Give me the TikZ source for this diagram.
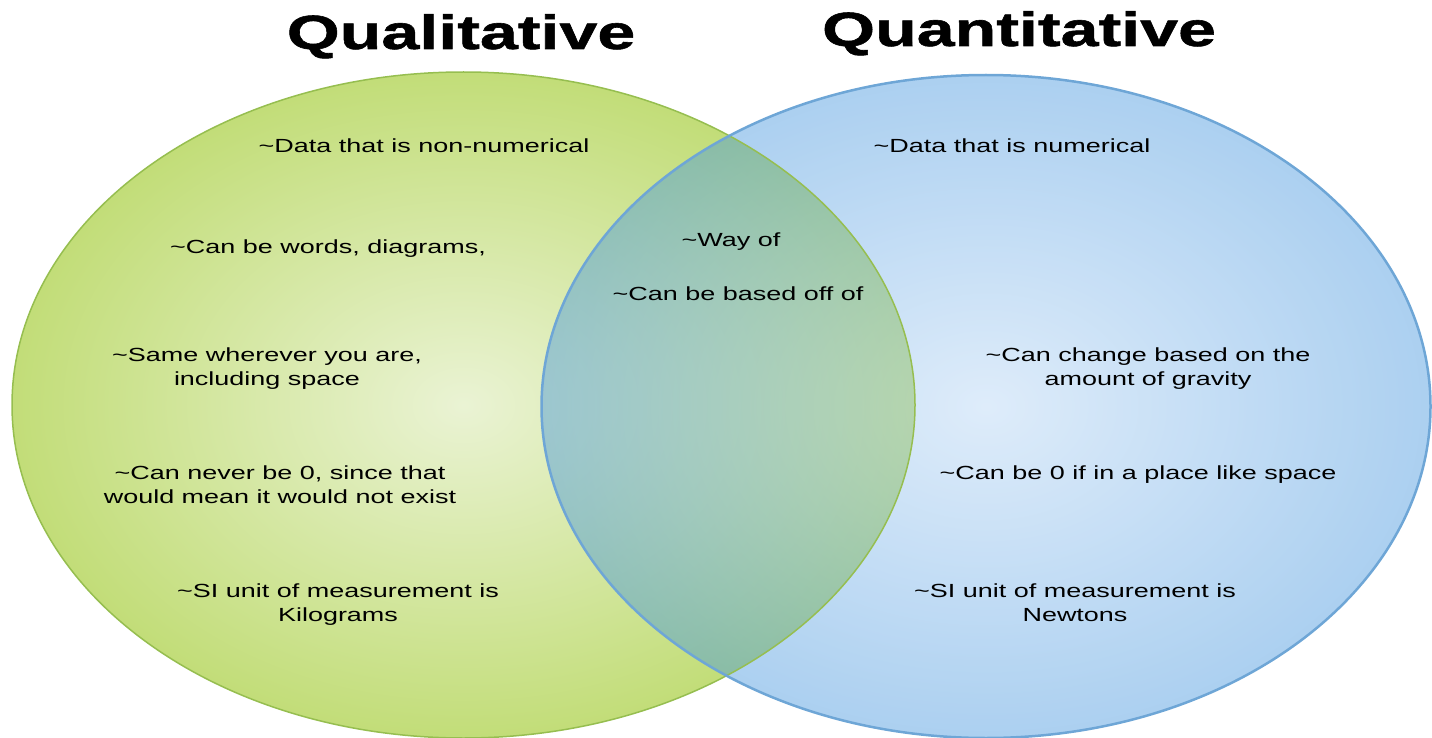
\documentclass[tikz,border=0pt]{standalone}
\usepackage{fontspec}
\setmainfont{Liberation Sans}
\newfontfamily\labelfont[FakeStretch=1.42]{Liberation Sans}
\newfontfamily\headfont[FakeStretch=1.42, BoldFeatures={FakeBold=1.2}]{Liberation Sans}
\usetikzlibrary{positioning}

\definecolor{qualin}{RGB}{234,243,212}
\definecolor{qualout}{RGB}{194,221,120}
\definecolor{qualedge}{RGB}{150,190,80}
\definecolor{quanin}{RGB}{182,213,244}
\definecolor{quanout}{RGB}{70,150,222}
\definecolor{quanedge}{RGB}{110,166,214}

\begin{document}
\begin{tikzpicture}[x=1pt, y=-1pt,
  item/.style={anchor=base, align=center, inner sep=0pt,
               font=\labelfont\fontsize{19}{24}\selectfont},
  head/.style={anchor=base, inner sep=0pt,
               font=\headfont\bfseries\fontsize{48}{48}\selectfont}]
  \useasboundingbox (0,0) rectangle (1432,738);
  \coordinate (qualc) at (463.5,405);
  \coordinate (quanc) at (986,406.5);
  \shade[inner color=qualin, outer color=qualout]
    (qualc) ellipse [x radius=451.5, y radius=333];
  \shade[inner color=quanin, outer color=quanout, fill opacity=0.45]
    (quanc) ellipse [x radius=444.5, y radius=331.5];
  \draw[qualedge, line width=1.5pt] (qualc) ellipse [x radius=451.5, y radius=333];
  \draw[quanedge, line width=2.5pt] (quanc) ellipse [x radius=444.5, y radius=331.5];

  \node[head] (qualtitle) at (461,49) {Qualitative};
  \node[head] (quantitle) at (1019,46) {Quantitative};

  % two-line items sit on the baseline of their last line
  \node[item] (qualdata) at (424,153) {\textasciitilde Data that is non-numerical};
  \node[item] (qualwords) at (328,253) {\textasciitilde Can be words, diagrams,};
  \node[item] (qualsame) at (267,385) {\textasciitilde Same wherever you are,\\including space};
  \node[item] (qualzero) at (280,503) {\textasciitilde Can never be 0, since that\\would mean it would not exist};
  \node[item] (qualunit) at (338,621) {\textasciitilde SI unit of measurement is\\Kilograms};

  \node[item] (bothway) at (731,246) {\textasciitilde Way of};
  \node[item] (bothbase) at (738,300) {\textasciitilde Can be based off of};

  \node[item] (quandata) at (1012,153) {\textasciitilde Data that is numerical};
  \node[item] (quanchange) at (1148,385) {\textasciitilde Can change based on the\\amount of gravity};
  \node[item] (quanzero) at (1138,479) {\textasciitilde Can be 0 if in a place like space};
  \node[item] (quanunit) at (1075,621) {\textasciitilde SI unit of measurement is\\Newtons};
\end{tikzpicture}
\end{document}
